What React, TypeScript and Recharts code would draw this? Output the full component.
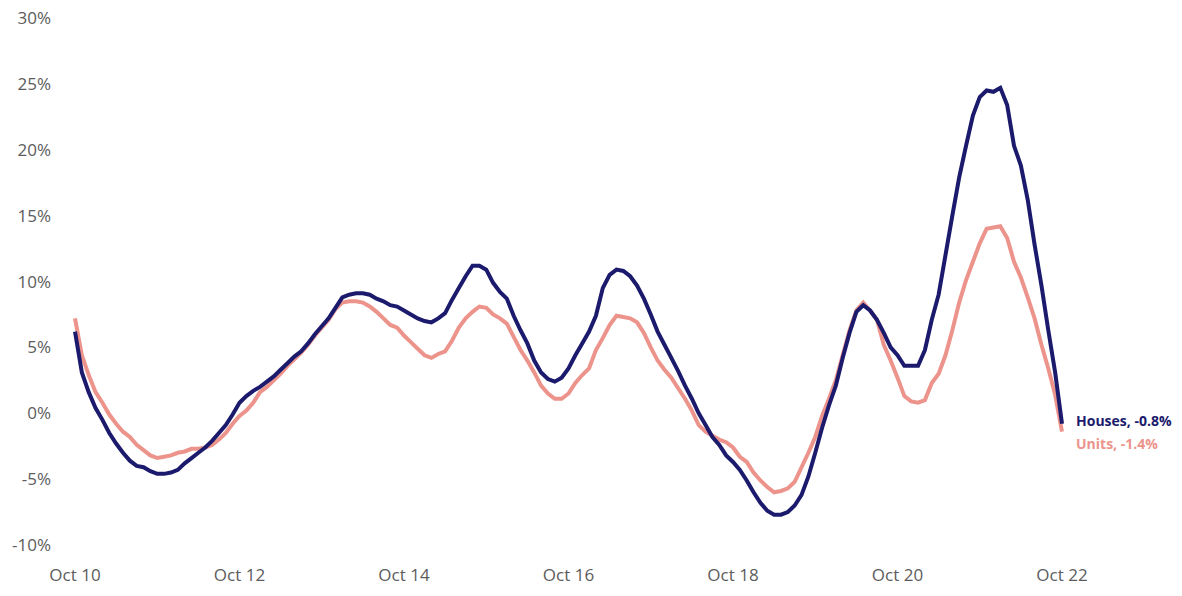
import { LineChart, Line, XAxis, YAxis, LabelList } from "recharts";

const monthNames = ["Jan", "Feb", "Mar", "Apr", "May", "Jun", "Jul", "Aug", "Sep", "Oct", "Nov", "Dec"];

// monthly, Oct 2010 -> Oct 2022 (annual change, %)
const houses = [
  6.2, 3.1, 1.6, 0.4, -0.5, -1.5, -2.3, -3.0, -3.6, -4.0, -4.1, -4.4,
  -4.6, -4.6, -4.5, -4.3, -3.8, -3.4, -3.0, -2.6, -2.1, -1.5, -0.9, -0.1,
  0.8, 1.3, 1.7, 2.0, 2.4, 2.8, 3.3, 3.8, 4.3, 4.7, 5.3, 6.0,
  6.6, 7.2, 8.0, 8.8, 9.0, 9.1, 9.1, 9.0, 8.7, 8.5, 8.2, 8.1,
  7.8, 7.5, 7.2, 7.0, 6.9, 7.2, 7.6, 8.6, 9.5, 10.4, 11.2, 11.2,
  10.9, 9.9, 9.2, 8.7, 7.4, 6.3, 5.3, 4.0, 3.1, 2.6, 2.4, 2.7,
  3.4, 4.4, 5.3, 6.2, 7.4, 9.5, 10.5, 10.9, 10.8, 10.4, 9.7, 8.7,
  7.5, 6.2, 5.2, 4.2, 3.2, 2.1, 1.1, 0.0, -0.9, -1.8, -2.4, -3.2,
  -3.7, -4.3, -5.1, -6.0, -6.8, -7.4, -7.7, -7.7, -7.5, -7.0, -6.2, -4.8,
  -3.0, -1.1, 0.6, 2.1, 4.2, 6.1, 7.7, 8.2, 7.8, 7.1, 6.1, 5.0,
  4.4, 3.6, 3.6, 3.6, 4.8, 7.1, 9.0, 12.0, 15.0, 17.9, 20.3, 22.6,
  24.0, 24.5, 24.4, 24.7, 23.4, 20.3, 18.8, 16.2, 12.8, 9.7, 6.3, 3.1,
  -0.8,
];

const units = [
  7.2, 4.4, 2.9, 1.6, 0.8, -0.1, -0.8, -1.4, -1.8, -2.4, -2.8, -3.2,
  -3.4, -3.3, -3.2, -3.0, -2.9, -2.7, -2.7, -2.6, -2.4, -2.0, -1.5, -0.8,
  -0.2, 0.2, 0.8, 1.6, 2.0, 2.5, 3.0, 3.6, 4.1, 4.6, 5.2, 5.9,
  6.5, 7.1, 7.9, 8.4, 8.5, 8.5, 8.4, 8.1, 7.7, 7.2, 6.7, 6.5,
  5.9, 5.4, 4.9, 4.4, 4.2, 4.5, 4.7, 5.5, 6.5, 7.2, 7.7, 8.1,
  8.0, 7.5, 7.2, 6.8, 5.8, 4.8, 4.0, 3.1, 2.1, 1.5, 1.1, 1.1,
  1.5, 2.3, 2.9, 3.4, 4.8, 5.7, 6.7, 7.4, 7.3, 7.2, 6.9, 6.1,
  5.0, 4.0, 3.3, 2.7, 1.9, 1.1, 0.2, -0.9, -1.4, -1.7, -2.0, -2.2,
  -2.6, -3.3, -3.7, -4.5, -5.1, -5.6, -6.0, -5.9, -5.7, -5.2, -4.1, -3.0,
  -1.8, -0.2, 1.1, 2.5, 4.4, 6.3, 7.8, 8.4, 7.8, 7.1, 5.2, 4.0,
  2.7, 1.3, 0.9, 0.8, 1.0, 2.3, 3.0, 4.4, 6.3, 8.4, 10.1, 11.5,
  12.9, 14.0, 14.1, 14.2, 13.3, 11.5, 10.3, 8.8, 7.2, 5.2, 3.4, 1.4,
  -1.4,
];

const yTicks = [-10, -5, 0, 5, 10, 15, 20, 25, 30];

const data = houses.map((h, i) => {
  const m = (9 + i) % 12;
  const yr = 10 + Math.floor((9 + i) / 12);
  return { month: `${monthNames[m]} ${yr}`, houses: h, units: units[i] };
});

const HOUSES_COLOR = "#1b1a6c";
const UNITS_COLOR = "#ec948c";
const last = data.length - 1;

const endLabel = (text: string, color: string, dy: number) => (props: any) => {
  const { x, y, index } = props;
  if (index !== last) return null;
  return (
    <text x={x + 14} y={y + dy} fill={color} fontSize={14} fontWeight={700} dominantBaseline="middle">
      {text}
    </text>
  );
};

export default function App() {
  return (
    <div style={{ position: "absolute", left: 0, top: 0, background: "#fff", fontFamily: "'Open Sans', sans-serif" }}>
      <LineChart width={1182} height={596} data={data} margin={{ top: 18, right: 120, left: 0, bottom: 21 }}>
        <XAxis
          dataKey="month"
          interval={23}
          height={30}
          axisLine={false}
          tickLine={false}
          tickMargin={18}
          tick={{ fill: "#5c5c5c", fontSize: 17 }}
        />
        <YAxis
          width={75}
          domain={[-10, 30]}
          ticks={yTicks}
          axisLine={false}
          tickLine={false}
          tickMargin={18}
          tickFormatter={(v) => `${v}%`}
          tick={{ fill: "#5c5c5c", fontSize: 17 }}
        />
        <Line type="linear" dataKey="units" stroke={UNITS_COLOR} strokeWidth={4} dot={false} isAnimationActive={false}>
          <LabelList dataKey="units" content={endLabel("Units, -1.4%", UNITS_COLOR, 14)} />
        </Line>
        <Line type="linear" dataKey="houses" stroke={HOUSES_COLOR} strokeWidth={4} dot={false} isAnimationActive={false}>
          <LabelList dataKey="houses" content={endLabel("Houses, -0.8%", HOUSES_COLOR, -2)} />
        </Line>
      </LineChart>
    </div>
  );
}
